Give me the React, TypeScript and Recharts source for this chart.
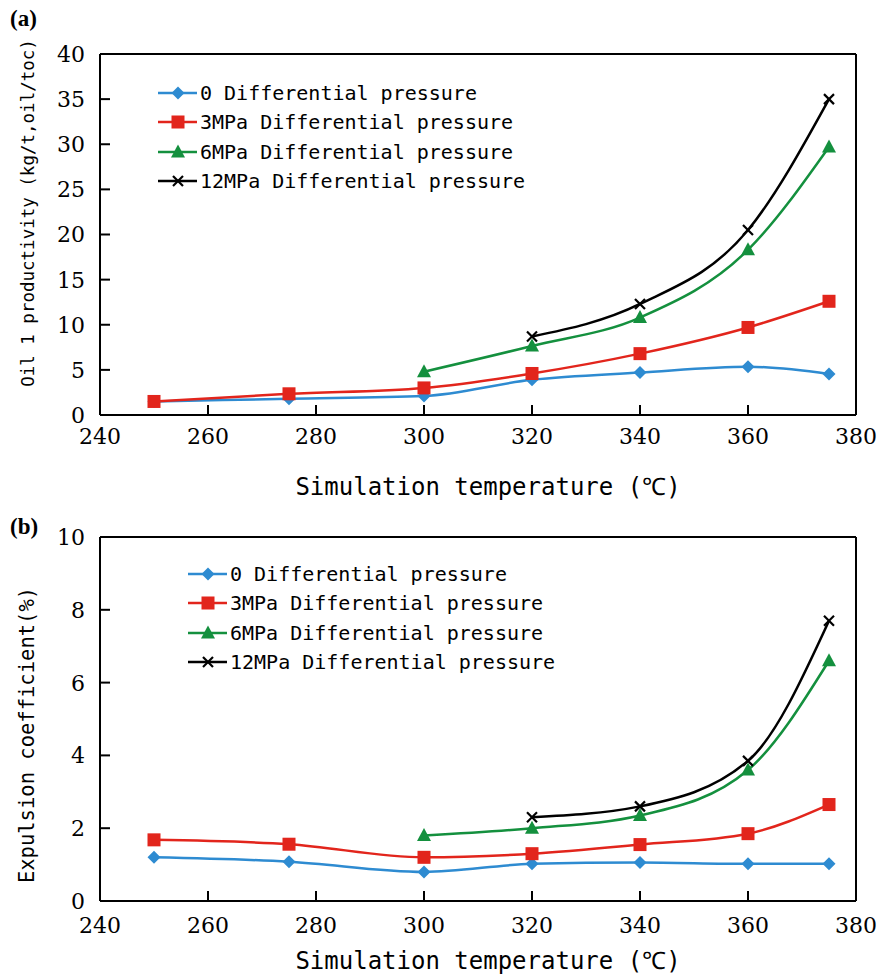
import React from 'react'
import { LineChart, Line, XAxis, YAxis, ReferenceLine, Legend } from 'recharts'

// simulation temperatures (℃)
const TEMPS = [250, 275, 300, 320, 340, 360, 375]
const X_TICKS = [240, 260, 280, 300, 320, 340, 360, 380]

// (a) oil 1 productivity, kg/t oil/toc
const OIL_P0 = [1.5, 1.8, 2.1, 3.9, 4.7, 5.35, 4.55]
const OIL_P3 = [1.5, 2.35, 3.0, 4.6, 6.8, 9.7, 12.6]
const OIL_P6 = [null, null, 4.8, 7.65, 10.8, 18.3, 29.7]
const OIL_P12 = [null, null, null, 8.7, 12.3, 20.5, 35.0]
const OIL_TICKS = [0, 5, 10, 15, 20, 25, 30, 35, 40]

// (b) expulsion coefficient, %
const EXP_P0 = [1.2, 1.08, 0.8, 1.02, 1.06, 1.02, 1.02]
const EXP_P3 = [1.68, 1.56, 1.2, 1.3, 1.55, 1.85, 2.65]
const EXP_P6 = [null, null, 1.8, 2.0, 2.35, 3.6, 6.6]
const EXP_P12 = [null, null, null, 2.3, 2.6, 3.85, 7.7]
const EXP_TICKS = [0, 2, 4, 6, 8, 10]

const SERIES = [
  { key: 'p0', name: '0 Differential pressure', color: '#2e8bd1', shape: 'diamond' },
  { key: 'p3', name: '3MPa Differential pressure', color: '#e2251c', shape: 'square' },
  { key: 'p6', name: '6MPa Differential pressure', color: '#14903e', shape: 'triangle' },
  { key: 'p12', name: '12MPa Differential pressure', color: '#000000', shape: 'cross' },
]

const oilData = TEMPS.map((t, i) => ({ t, p0: OIL_P0[i], p3: OIL_P3[i], p6: OIL_P6[i], p12: OIL_P12[i] }))
const expData = TEMPS.map((t, i) => ({ t, p0: EXP_P0[i], p3: EXP_P3[i], p6: EXP_P6[i], p12: EXP_P12[i] }))

const MONO = '"DejaVu Sans Mono", monospace'
const SERIF = '"DejaVu Serif", serif'
const TICK_LEN = 10

function Marker({ shape, color, cx, cy }: any) {
  if (shape === 'diamond')
    return <polygon points={`${cx},${cy - 6.5} ${cx + 6.5},${cy} ${cx},${cy + 6.5} ${cx - 6.5},${cy}`} fill={color} />
  if (shape === 'square') return <rect x={cx - 6.5} y={cy - 6.5} width={13} height={13} fill={color} />
  if (shape === 'triangle')
    return <polygon points={`${cx},${cy - 7.5} ${cx + 7},${cy + 5.5} ${cx - 7},${cy + 5.5}`} fill={color} />
  return (
    <g stroke={color} strokeWidth={2.2}>
      <line x1={cx - 5} y1={cy - 5} x2={cx + 5} y2={cy + 5} />
      <line x1={cx - 5} y1={cy + 5} x2={cx + 5} y2={cy - 5} />
    </g>
  )
}

const dotFor = (shape: string, color: string) => (props: any) => {
  const { cx, cy, index } = props
  if (cx == null || cy == null || props.value == null) return <g key={index} />
  return (
    <g key={index}>
      <Marker shape={shape} color={color} cx={cx} cy={cy} />
    </g>
  )
}

// ticks point inward, so the tick mark is drawn next to the label here
const xTick = (margin: number) => (props: any) => {
  const { x, y, payload } = props
  const axisY = y - margin
  return (
    <g>
      <line x1={x} x2={x} y1={axisY} y2={axisY - TICK_LEN} stroke="#000" strokeWidth={2} />
      <text x={x} y={y} dy="0.72em" textAnchor="middle" fontSize={22} fontFamily={SERIF} fill="#000">
        {payload.value}
      </text>
    </g>
  )
}

const yTick = (margin: number) => (props: any) => {
  const { x, y, payload } = props
  const axisX = x + margin
  return (
    <g>
      <line x1={axisX} x2={axisX + TICK_LEN} y1={y} y2={y} stroke="#000" strokeWidth={2} />
      <text x={x} y={y} dy="0.36em" textAnchor="end" fontSize={22} fontFamily={SERIF} fill="#000">
        {payload.value}
      </text>
    </g>
  )
}

function LegendBox() {
  return (
    <div style={{ fontFamily: MONO, fontSize: 20, color: '#000', textAlign: 'left' }}>
      {SERIES.map(s => (
        <div key={s.key} style={{ display: 'flex', alignItems: 'center', height: 29.5 }}>
          <svg width={42} height={18} style={{ display: 'block' }}>
            <line x1={0} y1={9} x2={39} y2={9} stroke={s.color} strokeWidth={2.5} />
            <Marker shape={s.shape} color={s.color} cx={20} cy={9} />
          </svg>
          <span style={{ whiteSpace: 'pre' }}>{s.name}</span>
        </div>
      ))}
    </div>
  )
}

function Panel({ data, ticks, yMax, height, top, xAxisHeight, xTickMargin, legendPos }: any) {
  return (
    <LineChart width={880} height={height} data={data} margin={{ top, right: 24, bottom: 0, left: 0 }}>
      <XAxis
        dataKey="t"
        type="number"
        domain={[240, 380]}
        ticks={X_TICKS}
        height={xAxisHeight}
        tick={xTick(xTickMargin)}
        tickSize={0}
        tickMargin={xTickMargin}
        tickLine={false}
        axisLine={{ stroke: '#000', strokeWidth: 2 }}
        interval={0}
      />
      <YAxis
        type="number"
        domain={[0, yMax]}
        ticks={ticks}
        width={100}
        tick={yTick(15)}
        tickSize={0}
        tickMargin={15}
        tickLine={false}
        axisLine={{ stroke: '#000', strokeWidth: 2 }}
        interval={0}
      />
      <ReferenceLine y={yMax} stroke="#000" strokeWidth={2} />
      <ReferenceLine x={380} stroke="#000" strokeWidth={2} />
      <Legend
        layout="horizontal"
        align="center"
        verticalAlign="middle"
        content={() => <LegendBox />}
        wrapperStyle={{ position: 'absolute', left: legendPos[0], top: legendPos[1], width: 'auto' }}
      />
      {SERIES.map(s => (
        <Line
          key={s.key}
          dataKey={s.key}
          name={s.name}
          type="monotone"
          stroke={s.color}
          strokeWidth={2.5}
          dot={dotFor(s.shape, s.color)}
          activeDot={false}
          isAnimationActive={false}
        />
      ))}
    </LineChart>
  )
}

const titleStyle: React.CSSProperties = {
  position: 'absolute',
  fontFamily: MONO,
  color: '#000',
  whiteSpace: 'pre',
}

export default function App() {
  return (
    <div style={{ position: 'absolute', left: 0, top: 0, width: 880, height: 976, background: '#fff' }}>
      <div style={{ position: 'absolute', left: 0, top: 0 }}>
        <Panel data={oilData} ticks={OIL_TICKS} yMax={40} height={500} top={54} xAxisHeight={85} xTickMargin={13} legendPos={[158, 78]} />
      </div>
      <div style={{ position: 'absolute', left: 0, top: 500 }}>
        <Panel data={expData} ticks={EXP_TICKS} yMax={10} height={476} top={37} xAxisHeight={75} xTickMargin={16} legendPos={[188, 59]} />
      </div>

      <div style={{ position: 'absolute', left: 10, top: 6, fontFamily: '"Liberation Serif", serif', fontWeight: 'bold', fontSize: 23 }}>(a)</div>
      <div style={{ position: 'absolute', left: 10, top: 514, fontFamily: '"Liberation Serif", serif', fontWeight: 'bold', fontSize: 23 }}>(b)</div>

      <div style={{ ...titleStyle, fontSize: 17.5, left: 28, top: 213, transform: 'translate(-50%,-50%) rotate(-90deg)' }}>
        Oil 1 productivity (kg/t,oil/toc)
      </div>
      <div style={{ ...titleStyle, fontSize: 20.5, left: 27, top: 735, transform: 'translate(-50%,-50%) rotate(-90deg)' }}>
        Expulsion coefficient(%)
      </div>
      <div style={{ ...titleStyle, fontSize: 24, left: 488, top: 485, transform: 'translate(-50%,-50%)' }}>
        Simulation temperature (℃)
      </div>
      <div style={{ ...titleStyle, fontSize: 24, left: 488, top: 959, transform: 'translate(-50%,-50%)' }}>
        Simulation temperature (℃)
      </div>
    </div>
  )
}
